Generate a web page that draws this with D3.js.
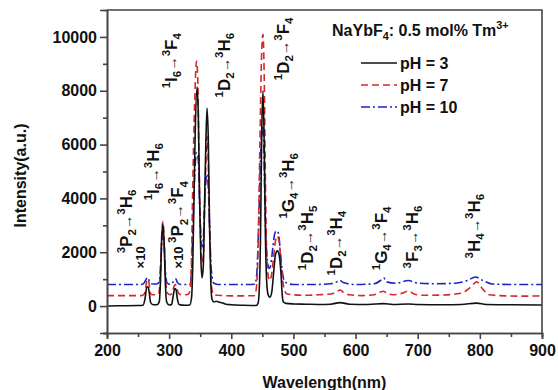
<!DOCTYPE html>
<html>
<head>
<meta charset="utf-8">
<script src="https://cdn.jsdelivr.net/npm/d3@7/dist/d3.min.js"></script>
<style>
  body { margin: 0; background: #fff; }
  text { font-family: 'Liberation Sans', Arial, sans-serif; font-weight: bold; fill: #111; }
  .axis path, .axis line { stroke: #444; stroke-width: 1.6px; }
</style>
</head>
<body>
<div id="chart"></div>
<script>
/* Data: [wavelength nm, intensity a.u.] */
const pH3 = [
  [200, 0], [220, 10], [250, 20], [258, 30], [261, 250], [264, 700], [266, 720], [268, 500], [270, 150],
  [273, 60], [280, 50], [284, 150], [286, 900], [288, 2500], [290, 3050], [292, 2300], [294, 800],
  [296, 150], [300, 40], [304, 60], [306, 300], [309, 650], [311, 620], [313, 300], [316, 60],
  [325, 30], [333, 40], [336, 300], [338, 1500], [340, 4000], [342, 6500], [345, 8150], [347, 7000],
  [349, 4000], [351, 1800], [353, 1050], [355, 1500], [357, 3800], [359, 6000], [361, 7350],
  [363, 6200], [365, 3000], [367, 900], [369, 250], [372, 150], [376, 180], [380, 150], [385, 120],
  [390, 80], [400, 50], [420, 30], [440, 20], [443, 100], [445, 600], [447, 2500], [449, 6500],
  [451, 8000], [453, 6000], [455, 2500], [457, 900], [459, 450], [462, 330], [465, 500], [468, 1200],
  [471, 1900], [474, 2050], [477, 1900], [480, 1200], [482, 400], [484, 150], [488, 100], [500, 80],
  [520, 70], [540, 60], [560, 70], [575, 130], [590, 70], [620, 60], [645, 90], [660, 60], [685, 80],
  [700, 60], [740, 50], [770, 60], [795, 110], [810, 60], [850, 50], [900, 40]
];
const pH7 = [
  [200, 390], [230, 390], [255, 390], [260, 450], [263, 800], [265, 1000], [267, 950], [269, 600],
  [272, 420], [278, 420], [283, 450], [286, 1200], [288, 2600], [290, 3150], [292, 2500], [294, 1100],
  [297, 500], [301, 420], [305, 480], [308, 750], [310, 800], [312, 700], [315, 480], [320, 420],
  [330, 430], [334, 600], [336, 1800], [338, 4500], [341, 7500], [344, 9100], [346, 8500], [348, 5500],
  [350, 3000], [353, 1600], [355, 1800], [357, 3500], [359, 5200], [361, 6300], [363, 5300], [365, 3000],
  [367, 1300], [369, 600], [372, 420], [380, 400], [400, 380], [420, 380], [437, 390], [440, 600],
  [443, 2000], [446, 6000], [449, 9500], [451, 10100], [453, 8500], [455, 4500], [457, 2000], [459, 1200],
  [462, 950], [465, 1200], [468, 1800], [471, 2400], [474, 2600], [477, 2400], [480, 1600], [483, 900],
  [486, 550], [490, 450], [500, 420], [520, 400], [540, 420], [560, 450], [570, 540], [575, 600],
  [580, 520], [590, 420], [610, 390], [630, 420], [640, 520], [645, 550], [650, 480], [660, 420],
  [675, 480], [685, 560], [695, 440], [710, 400], [740, 410], [770, 480], [785, 700], [795, 900],
  [805, 620], [815, 420], [840, 380], [870, 370], [900, 380]
];
const pH10 = [
  [200, 800], [250, 800], [258, 820], [262, 950], [265, 1060], [268, 950], [271, 830], [280, 820],
  [284, 900], [286, 1400], [288, 2300], [290, 2700], [292, 2300], [294, 1300], [297, 850], [302, 800],
  [306, 880], [309, 1000], [311, 1000], [313, 880], [318, 800], [333, 800], [336, 1300], [338, 2800],
  [341, 4800], [344, 5700], [347, 5400], [349, 3800], [351, 2700], [353, 2200], [355, 2500], [357, 3800],
  [359, 4600], [361, 4900], [363, 4400], [365, 3000], [367, 1700], [369, 1100], [372, 850], [380, 800],
  [400, 800], [420, 800], [438, 810], [441, 1200], [444, 3000], [447, 5500], [450, 6700], [452, 6200],
  [454, 4000], [456, 2400], [458, 1700], [461, 1400], [464, 1600], [467, 2200], [470, 2700], [473, 2800],
  [476, 2700], [479, 2000], [482, 1300], [485, 950], [490, 850], [500, 800], [530, 800], [560, 830],
  [570, 900], [575, 950], [580, 880], [600, 800], [630, 830], [640, 950], [645, 1050], [650, 900],
  [665, 850], [685, 950], [700, 850], [730, 830], [760, 850], [780, 950], [793, 1080], [805, 950],
  [820, 820], [860, 800], [900, 800]
];

const seriesNames = ['pH = 3', 'pH = 7', 'pH = 10'];
const xTicks = [200, 300, 400, 500, 600, 700, 800, 900];
const yTicks = [0, 2000, 4000, 6000, 8000, 10000];

/* Transition labels: [text, wavelength, intensity at the text start] */
const bandLabels = [
  ['^{3}P_{2}→^{3}H_{6}', 240, 1960],
  ['×10', 261, 1400],
  ['^{1}I_{6}→^{3}H_{6}', 284, 3930],
  ['~{×10 }^{3}P_{2}→^{3}F_{4}', 323, 1400],
  ['^{1}I_{6}→^{3}F_{4}', 313, 8090],
  ['^{1}D_{2}→^{3}H_{6}', 398, 7750],
  ['^{1}D_{2}→^{3}F_{4}', 493, 8390],
  ['^{1}G_{4}→^{3}H_{6}', 501, 3250],
  ['^{1}D_{2}→^{3}H_{5}', 531, 1330],
  ['^{1}D_{2}→^{3}H_{4}', 578, 1140],
  ['^{1}G_{4}→^{3}F_{4}', 650, 1330],
  ['^{3}F_{3}→^{3}H_{6}', 700, 1400],
  ['^{3}H_{4}→^{3}H_{6}', 800, 1770]
];

const width = 558;
const height = 390;
const margin = {top: 10, right: 16, bottom: 57, left: 107};
const contentWidth = width - margin.left - margin.right;
const contentHeight = height - margin.top - margin.bottom;

const colors = ['#111111', '#d42a2a', '#1c24c8'];
const dashes = [null, '7,4', '9,3,2,3'];

/* Scale */
const xScale = d3.scaleLinear().domain([200, 900]).range([0, contentWidth]);
const yScale = d3.scaleLinear().domain([-1000, 11000]).range([contentHeight, 0]);

const svg = d3.select('#chart').append('svg')
  .attr('width', width)
  .attr('height', height)
  .append('g')
  .attr('transform', `translate(${margin.left}, ${margin.top})`);

/* "^{a}" superscript, "_{b}" subscript, "~{c}" small text on the baseline */
function richText(textSel, str, size) {
  const re = /(\^|_|~)\{([^}]*)\}|(→)|([^\^_~→]+)/g;
  let m;
  let shift = 0;
  while ((m = re.exec(str)) !== null) {
    let target = 0;
    let fs = size;
    let txt = m[4];
    if (m[1] === '^') { target = -0.42 * size; fs = size * 0.68; txt = m[2]; }
    if (m[1] === '_') { target = 0.25 * size; fs = size * 0.68; txt = m[2]; }
    if (m[1] === '~') { fs = size * 0.76; txt = m[2]; }
    if (m[3]) { fs = size * 0.85; txt = m[3]; }
    textSel.append('tspan')
      .attr('dy', target - shift)
      .style('font-size', fs + 'px')
      .text(txt);
    shift = target;
  }
}

/* Lines */
const line = d3.line()
  .x(d => xScale(d[0]))
  .y(d => yScale(d[1]))
  .curve(d3.curveMonotoneX);

const allSeries = [pH3, pH7, pH10];
svg.append('g')
  .attr('class', 'lines')
  .selectAll('path')
  .data([2, 1, 0]).enter()
  .append('path')
  .attr('d', i => line(allSeries[i]))
  .attr('fill', 'none')
  .attr('stroke', i => colors[i])
  .attr('stroke-width', 1.6)
  .attr('stroke-dasharray', i => dashes[i]);

/* Axis */
const xAxis = d3.axisBottom(xScale).tickValues(xTicks).tickSize(6).tickPadding(5).tickFormat(d3.format('d'));
const xMinor = d3.axisBottom(xScale).tickValues(d3.range(250, 900, 100)).tickSize(4).tickFormat('');
const yAxis = d3.axisLeft(yScale).tickValues(yTicks).tickSize(7).tickPadding(3).tickFormat(d3.format('d'));
const yMinor = d3.axisLeft(yScale).tickValues([-1000, 1000, 3000, 5000, 7000, 9000]).tickSize(4).tickFormat('');

svg.append('g')
  .attr('class', 'x axis')
  .attr('transform', `translate(0, ${contentHeight})`)
  .call(xAxis)
  .call(g => g.selectAll('text').attr('y', 12).style('font-size', '16px'));
svg.append('g')
  .attr('class', 'x axis')
  .attr('transform', `translate(0, ${contentHeight})`)
  .call(xMinor);
svg.append('g')
  .attr('class', 'y axis')
  .call(yAxis)
  .call(g => g.selectAll('text').style('font-size', '16px'));
svg.append('g')
  .attr('class', 'y axis')
  .call(yMinor);

/* frame: top and right */
svg.append('path')
  .attr('d', `M0,0H${contentWidth}V${contentHeight}`)
  .attr('fill', 'none')
  .attr('stroke', '#444')
  .attr('stroke-width', 1.6);

svg.append('text')
  .attr('x', contentWidth / 2)
  .attr('y', contentHeight + 55)
  .attr('text-anchor', 'middle')
  .style('font-size', '16px')
  .text('Wavelength(nm)');

svg.append('text')
  .attr('transform', `translate(${-81}, ${contentHeight / 2 + 4}) rotate(-90)`)
  .attr('text-anchor', 'middle')
  .style('font-size', '16px')
  .text('Intensity(a.u.)');

/* Band labels */
svg.append('g')
  .attr('class', 'bands')
  .selectAll('text')
  .data(bandLabels).enter()
  .append('text')
  .attr('transform', d => `translate(${xScale(d[1])}, ${yScale(d[2])}) rotate(-90)`)
  .each(function (d) {
    const size = d[0] === '×10' ? 13 : 17;
    richText(d3.select(this), d[0], size);
  });

/* Legend */
const legend = svg.append('g')
  .attr('transform', `translate(${225}, 0)`);
legend.append('text')
  .attr('y', 26)
  .call(t => richText(t, 'NaYbF_{4}: 0.5 mol% Tm^{3+}', 16));
const rows = legend.selectAll('.row')
  .data(seriesNames).enter()
  .append('g')
  .attr('class', 'row')
  .attr('transform', (d, i) => `translate(0, ${53 + i * 22})`);
rows.append('line')
  .attr('x1', 29).attr('x2', 65)
  .attr('stroke', (d, i) => colors[i])
  .attr('stroke-width', 1.6)
  .attr('stroke-dasharray', (d, i) => dashes[i]);
rows.append('text')
  .attr('x', 68)
  .attr('dy', '0.36em')
  .style('font-size', '16px')
  .text(d => d);
</script>
</body>
</html>
